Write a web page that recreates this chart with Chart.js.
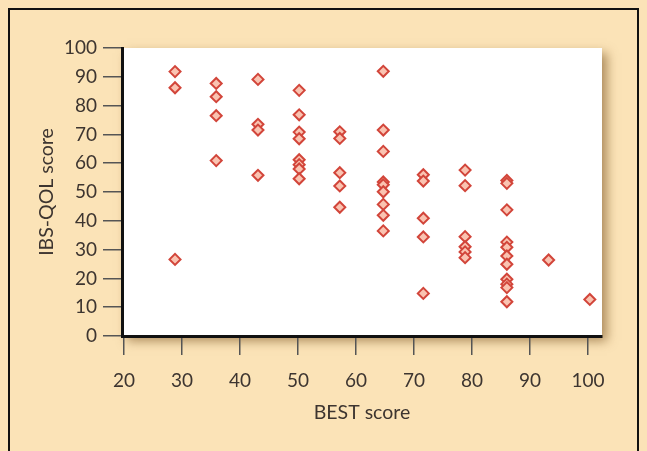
<!DOCTYPE html>
<html>
<head>
<meta charset="utf-8">
<script src="https://cdn.jsdelivr.net/npm/chart.js@4"></script>
<style>
  html, body { margin: 0; padding: 0; background: #fbe3b7; }
  #wrap { width: 647px; height: 451px; }
</style>
</head>
<body>
<div id="wrap"><canvas id="chart" width="647" height="451"></canvas></div>
<script>
// BEST score columns and the IBS-QOL scores read at each one
const bestScores = [28.8, 35.9, 43.1, 50.2, 57.2, 64.7, 71.6, 78.8, 86.0, 93.2, 100.3];
const qolScores = [
    [91.8, 86.2, 26.6],
    [87.7, 83.1, 76.5, 60.9],
    [89.1, 73.5, 71.5, 55.8],
    [85.3, 76.8, 70.8, 68.5, 61.2, 59.5, 58.0, 54.6],
    [70.9, 68.6, 56.7, 52.1, 44.7],
    [91.9, 71.5, 64.1, 53.5, 52.5, 50.1, 45.7, 41.9, 36.5],
    [56.0, 53.8, 40.9, 34.4, 14.8],
    [57.6, 52.2, 34.5, 31.0, 29.2, 27.2],
    [54.0, 53.0, 43.8, 32.6, 30.8, 27.8, 24.9, 19.7, 18.0, 16.8, 11.9],
    [26.4],
    [12.7]
];
const xTicks = [20, 30, 40, 50, 60, 70, 80, 90, 100];
const yTicks = [0, 10, 20, 30, 40, 50, 60, 70, 80, 90, 100];

const points = [];
bestScores.forEach((x, i) => {
    qolScores[i].forEach(y => points.push({ x: x, y: y }));
});

const textColor = '#3d3530';
const tickFont = { family: 'Lato, "Open Sans", sans-serif', size: 19 };
const titleFont = { family: 'Lato, "Open Sans", sans-serif', size: 19.5 };

// peach backdrop, black frame, white plot panel with a soft shadow
const backdrop = {
    id: 'backdrop',
    beforeDraw(chart) {
        const ctx = chart.ctx;
        const a = chart.chartArea;
        ctx.save();
        ctx.fillStyle = '#fbe3b7';
        ctx.fillRect(0, 0, chart.width, chart.height);
        ctx.strokeStyle = '#111';
        ctx.lineWidth = 2;
        ctx.strokeRect(9, 9, 629, 470);
        ctx.shadowColor = 'rgba(110, 70, 20, 0.55)';
        ctx.shadowBlur = 10;
        ctx.shadowOffsetX = 5;
        ctx.shadowOffsetY = 5;
        ctx.fillStyle = '#ffffff';
        ctx.fillRect(a.left, a.top, a.right - a.left, a.bottom - a.top);
        ctx.restore();
    }
};

new Chart(document.getElementById('chart'), {
    type: 'scatter',
    data: {
        datasets: [{
            data: points,
            pointStyle: 'rectRot',
            pointRadius: 5.5,
            pointHoverRadius: 5.5,
            borderWidth: 2,
            borderColor: '#d2453a',
            backgroundColor: '#fac3b1'
        }]
    },
    options: {
        responsive: false,
        animation: false,
        layout: { padding: { left: 0, top: 48, right: 45, bottom: 0 } },
        plugins: {
            legend: { display: false },
            tooltip: { enabled: false }
        },
        scales: {
            x: {
                type: 'linear',
                min: 19.66,
                max: 102.4,
                afterBuildTicks: scale => { scale.ticks = xTicks.map(v => ({ value: v })); },
                afterFit: scale => { scale.height = 115; },
                border: { color: '#111', width: 3 },
                grid: { drawOnChartArea: false, tickLength: 19, color: '#555', lineWidth: 1.5 },
                ticks: { color: textColor, font: tickFont, padding: 14, maxRotation: 0 },
                title: {
                    display: true,
                    text: 'BEST score',
                    color: textColor,
                    font: titleFont,
                    padding: { top: 0, bottom: 27 }
                }
            },
            y: {
                min: 0,
                max: 100,
                afterBuildTicks: scale => { scale.ticks = yTicks.map(v => ({ value: v })); },
                afterFit: scale => { scale.width = 122; },
                border: { color: '#111', width: 3 },
                grid: { drawOnChartArea: false, tickLength: 19, color: '#555', lineWidth: 1.5 },
                ticks: { color: textColor, font: tickFont, padding: 6 },
                title: {
                    display: true,
                    text: 'IBS-QOL score',
                    color: textColor,
                    font: titleFont,
                    padding: { top: 35, bottom: 0 }
                }
            }
        }
    },
    plugins: [backdrop]
});
</script>
</body>
</html>
